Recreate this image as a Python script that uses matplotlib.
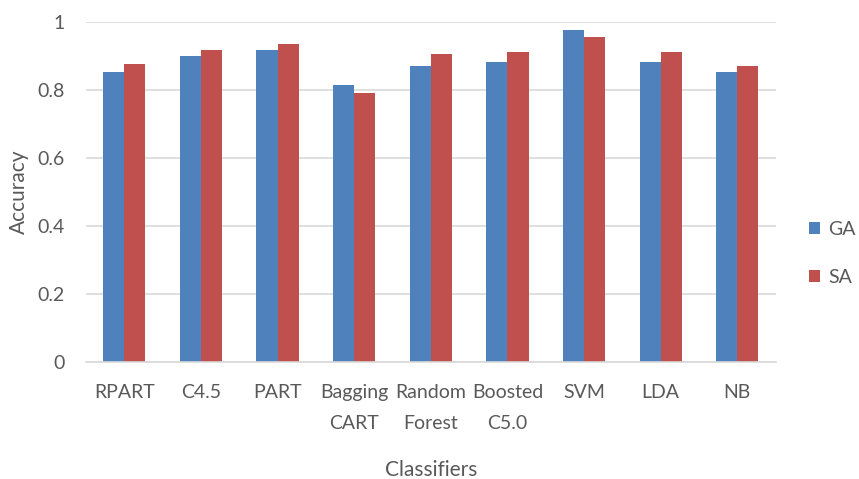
import matplotlib

matplotlib.use("Agg")
import matplotlib.pyplot as plt
import numpy as np

plt.rcParams["font.family"] = ["Lato", "DejaVu Sans"]

# data
classifiers = ["RPART", "C4.5", "PART", "Bagging\nCART", "Random\nForest",
               "Boosted\nC5.0", "SVM", "LDA", "NB"]
ga = [0.853, 0.900, 0.918, 0.816, 0.871, 0.882, 0.978, 0.882, 0.853]
sa = [0.876, 0.918, 0.936, 0.792, 0.906, 0.912, 0.955, 0.912, 0.870]

C_GA = "#4F81BD"
C_SA = "#C0504D"
TXT = "#595959"

fig = plt.figure(figsize=(8.59, 4.79), dpi=100)
ax = fig.add_axes([0.100, 0.244, 0.803, 0.710])

x = np.arange(len(classifiers))
w = 0.275
ax.bar(x - w / 2, ga, w, color=C_GA, label="GA", zorder=3)
ax.bar(x + w / 2, sa, w, color=C_SA, label="SA", zorder=3)

ax.set_xlim(-0.5, len(classifiers) - 0.5)
ax.set_ylim(0, 1)
ax.set_yticks([0, 0.2, 0.4, 0.6, 0.8, 1])
ax.set_yticklabels(["0", "0.2", "0.4", "0.6", "0.8", "1"])
ax.set_xticks(x)
ax.set_xticklabels(classifiers, linespacing=2.0, va="top")
ax.tick_params(axis="both", length=0, labelsize=14, colors=TXT)
ax.tick_params(axis="x", pad=16)
ax.tick_params(axis="y", pad=15)
ax.grid(True, axis="y", color="#D9D9D9", lw=1.2, zorder=0)
for s in ("top", "right", "left"):
    ax.spines[s].set_visible(False)
ax.spines["bottom"].set_color("#D9D9D9")
ax.spines["bottom"].set_linewidth(1.2)
ax.spines["bottom"].set_zorder(4)

ax.set_xlabel("Classifiers", fontsize=15, color=TXT, labelpad=20)
ax.set_ylabel("Accuracy", fontsize=15, color=TXT, labelpad=6)

ax.legend(loc="center left", bbox_to_anchor=(1.028, 0.32), frameon=False,
          fontsize=14, labelcolor=TXT, handlelength=0.6, handleheight=0.6,
          handletextpad=0.4, labelspacing=1.6, borderaxespad=0.3)

fig.savefig("out.png", dpi=100)
